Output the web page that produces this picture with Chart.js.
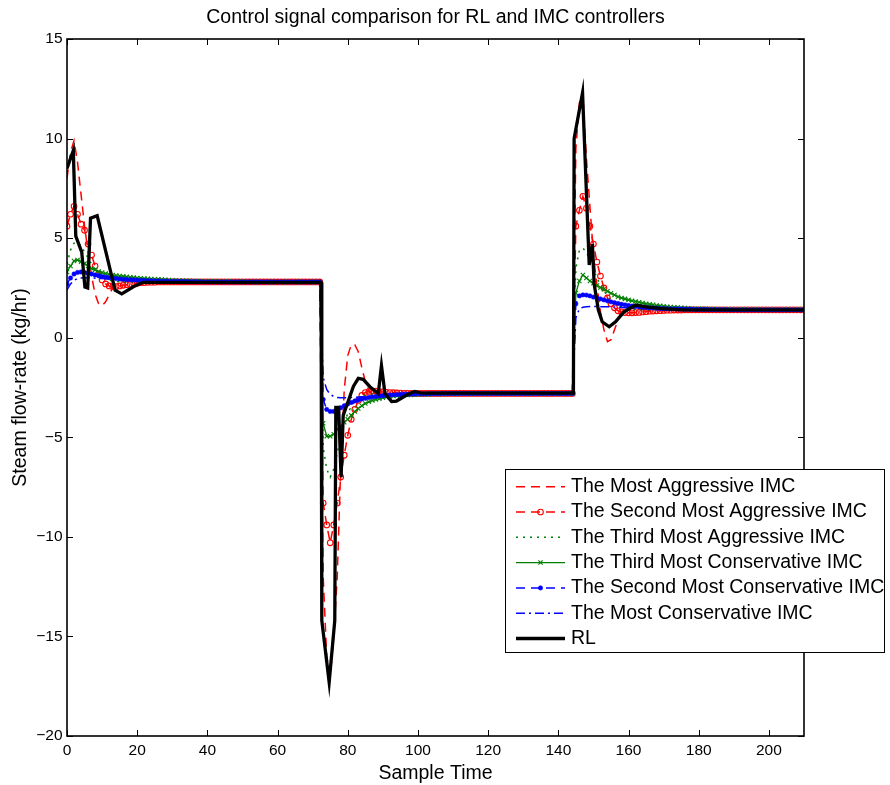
<!DOCTYPE html>
<html>
<head>
<meta charset="utf-8">
<title>Control signal comparison</title>
<script src="https://cdn.jsdelivr.net/npm/chart.js@4.4.1/dist/chart.umd.min.js"></script>
<style>
  html, body { margin: 0; padding: 0; background: #fff; }
  canvas { display: block; }
</style>
</head>
<body>
<canvas id="myChart" width="890" height="785"></canvas>
<script>
// sample index 0..210, one controller move per sample
const sampleTime = Array.from({ length: 211 }, (_, i) => i);

const xTicks = [0, 20, 40, 60, 80, 100, 120, 140, 160, 180, 200];
const yTicks = [-20, -15, -10, -5, 0, 5, 10, 15];

const mostAggressive = [
  8.0, 9.3, 9.9, 8.8, 7.2, 5.6, 4.3, 3.1, 2.2, 1.7,
  1.6, 1.8, 2.15, 2.5, 2.75, 2.85, 2.86, 2.83, 2.81, 2.8,
  2.8, 2.8, 2.8, 2.8, 2.8, 2.8, 2.8, 2.8, 2.8, 2.8,
  2.8, 2.8, 2.8, 2.8, 2.8, 2.8, 2.8, 2.8, 2.8, 2.8,
  2.8, 2.8, 2.8, 2.8, 2.8, 2.8, 2.8, 2.8, 2.8, 2.8,
  2.8, 2.8, 2.8, 2.8, 2.8, 2.8, 2.8, 2.8, 2.8, 2.8,
  2.8, 2.8, 2.8, 2.8, 2.8, 2.8, 2.8, 2.8, 2.8, 2.8,
  2.8, 2.8, 2.8, -12, -16, -17, -15, -12, -6.5, -2.6,
  -0.9, -0.35, -0.35, -0.7, -1.5, -2.2, -2.65, -2.9, -2.95, -2.9,
  -2.85, -2.8, -2.8, -2.8, -2.8, -2.8, -2.8, -2.8, -2.8, -2.8,
  -2.8, -2.8, -2.8, -2.8, -2.8, -2.8, -2.8, -2.8, -2.8, -2.8,
  -2.8, -2.8, -2.8, -2.8, -2.8, -2.8, -2.8, -2.8, -2.8, -2.8,
  -2.8, -2.8, -2.8, -2.8, -2.8, -2.8, -2.8, -2.8, -2.8, -2.8,
  -2.8, -2.8, -2.8, -2.8, -2.8, -2.8, -2.8, -2.8, -2.8, -2.8,
  -2.8, -2.8, -2.8, -2.8, -2.8, 9.5, 11.8, 12.1, 9.0, 6.6,
  4.2, 2.6, 1.3, 0.4, -0.2, -0.1, 0.4, 0.9, 1.3, 1.5,
  1.55, 1.5, 1.45, 1.42, 1.4, 1.4, 1.4, 1.4, 1.4, 1.4,
  1.4, 1.4, 1.4, 1.4, 1.4, 1.4, 1.4, 1.4, 1.4, 1.4,
  1.4, 1.4, 1.4, 1.4, 1.4, 1.4, 1.4, 1.4, 1.4, 1.4,
  1.4, 1.4, 1.4, 1.4, 1.4, 1.4, 1.4, 1.4, 1.4, 1.4,
  1.4, 1.4, 1.4, 1.4, 1.4, 1.4, 1.4, 1.4, 1.4, 1.4, 1.4
];

const secondAggressive = [
  5.6, 6.2, 6.6, 6.2, 5.7, 5.4, 4.7, 4.15, 3.6, 3.2,
  2.9, 2.7, 2.6, 2.57, 2.57, 2.6, 2.63, 2.66, 2.69, 2.72,
  2.74, 2.76, 2.77, 2.78, 2.79, 2.79, 2.8, 2.8, 2.8, 2.8,
  2.8, 2.8, 2.8, 2.8, 2.8, 2.8, 2.8, 2.8, 2.8, 2.8,
  2.8, 2.8, 2.8, 2.8, 2.8, 2.8, 2.8, 2.8, 2.8, 2.8,
  2.8, 2.8, 2.8, 2.8, 2.8, 2.8, 2.8, 2.8, 2.8, 2.8,
  2.8, 2.8, 2.8, 2.8, 2.8, 2.8, 2.8, 2.8, 2.8, 2.8,
  2.8, 2.8, 2.8, -8.3, -9.4, -10.3, -9.4, -8.3, -7.0, -5.9,
  -4.9, -4.1, -3.6, -3.15, -2.9, -2.75, -2.7, -2.68, -2.68, -2.7,
  -2.72, -2.74, -2.75, -2.76, -2.77, -2.78, -2.79, -2.79, -2.8, -2.8,
  -2.8, -2.8, -2.8, -2.8, -2.8, -2.8, -2.8, -2.8, -2.8, -2.8,
  -2.8, -2.8, -2.8, -2.8, -2.8, -2.8, -2.8, -2.8, -2.8, -2.8,
  -2.8, -2.8, -2.8, -2.8, -2.8, -2.8, -2.8, -2.8, -2.8, -2.8,
  -2.8, -2.8, -2.8, -2.8, -2.8, -2.8, -2.8, -2.8, -2.8, -2.8,
  -2.8, -2.8, -2.8, -2.8, -2.8, 5.6, 6.4, 7.1, 6.5, 5.6,
  4.7, 3.8, 3.1, 2.5, 2.0, 1.7, 1.5, 1.35, 1.3, 1.26,
  1.25, 1.25, 1.26, 1.27, 1.29, 1.31, 1.33, 1.34, 1.35, 1.36,
  1.37, 1.38, 1.38, 1.39, 1.39, 1.39, 1.4, 1.4, 1.4, 1.4,
  1.4, 1.4, 1.4, 1.4, 1.4, 1.4, 1.4, 1.4, 1.4, 1.4,
  1.4, 1.4, 1.4, 1.4, 1.4, 1.4, 1.4, 1.4, 1.4, 1.4,
  1.4, 1.4, 1.4, 1.4, 1.4, 1.4, 1.4, 1.4, 1.4, 1.4, 1.4
];

const thirdAggressive = [
  3.7, 4.4, 4.75, 4.8, 4.6, 4.3, 4.0, 3.7, 3.45, 3.25,
  3.1, 2.98, 2.9, 2.85, 2.82, 2.81, 2.8, 2.8, 2.8, 2.8,
  2.8, 2.8, 2.8, 2.8, 2.8, 2.8, 2.8, 2.8, 2.8, 2.8,
  2.8, 2.8, 2.8, 2.8, 2.8, 2.8, 2.8, 2.8, 2.8, 2.8,
  2.8, 2.8, 2.8, 2.8, 2.8, 2.8, 2.8, 2.8, 2.8, 2.8,
  2.8, 2.8, 2.8, 2.8, 2.8, 2.8, 2.8, 2.8, 2.8, 2.8,
  2.8, 2.8, 2.8, 2.8, 2.8, 2.8, 2.8, 2.8, 2.8, 2.8,
  2.8, 2.8, 2.8, -5.5, -6.6, -7.0, -6.6, -5.8, -5.0, -4.3,
  -3.8, -3.45, -3.2, -3.05, -2.95, -2.88, -2.84, -2.82, -2.81, -2.8,
  -2.8, -2.8, -2.8, -2.8, -2.8, -2.8, -2.8, -2.8, -2.8, -2.8,
  -2.8, -2.8, -2.8, -2.8, -2.8, -2.8, -2.8, -2.8, -2.8, -2.8,
  -2.8, -2.8, -2.8, -2.8, -2.8, -2.8, -2.8, -2.8, -2.8, -2.8,
  -2.8, -2.8, -2.8, -2.8, -2.8, -2.8, -2.8, -2.8, -2.8, -2.8,
  -2.8, -2.8, -2.8, -2.8, -2.8, -2.8, -2.8, -2.8, -2.8, -2.8,
  -2.8, -2.8, -2.8, -2.8, -2.8, 3.5, 4.4, 4.5, 4.3, 3.9,
  3.45, 3.0, 2.65, 2.35, 2.1, 1.9, 1.75, 1.62, 1.53, 1.47,
  1.44, 1.42, 1.41, 1.4, 1.4, 1.4, 1.4, 1.4, 1.4, 1.4,
  1.4, 1.4, 1.4, 1.4, 1.4, 1.4, 1.4, 1.4, 1.4, 1.4,
  1.4, 1.4, 1.4, 1.4, 1.4, 1.4, 1.4, 1.4, 1.4, 1.4,
  1.4, 1.4, 1.4, 1.4, 1.4, 1.4, 1.4, 1.4, 1.4, 1.4,
  1.4, 1.4, 1.4, 1.4, 1.4, 1.4, 1.4, 1.4, 1.4, 1.4, 1.4
];

const thirdConservative = [
  3.3, 3.6, 3.85, 3.9, 3.82, 3.72, 3.6, 3.48, 3.4, 3.33,
  3.27, 3.22, 3.18, 3.15, 3.12, 3.1, 3.08, 3.06, 3.04, 3.02,
  3.0, 2.99, 2.97, 2.96, 2.95, 2.94, 2.93, 2.92, 2.91, 2.9,
  2.89, 2.88, 2.87, 2.87, 2.86, 2.86, 2.85, 2.85, 2.84, 2.84,
  2.84, 2.83, 2.83, 2.83, 2.82, 2.82, 2.82, 2.82, 2.81, 2.81,
  2.81, 2.81, 2.81, 2.8, 2.8, 2.8, 2.8, 2.8, 2.8, 2.8,
  2.8, 2.8, 2.8, 2.8, 2.8, 2.8, 2.8, 2.8, 2.8, 2.8,
  2.8, 2.8, 2.8, -4.3, -4.95, -4.95, -4.85, -4.6, -4.45, -4.25,
  -4.1, -3.9, -3.7, -3.55, -3.42, -3.3, -3.22, -3.15, -3.1, -3.06,
  -3.02, -2.98, -2.95, -2.93, -2.91, -2.9, -2.89, -2.88, -2.87, -2.86,
  -2.85, -2.85, -2.84, -2.84, -2.83, -2.83, -2.82, -2.82, -2.82, -2.81,
  -2.81, -2.81, -2.81, -2.8, -2.8, -2.8, -2.8, -2.8, -2.8, -2.8,
  -2.8, -2.8, -2.8, -2.8, -2.8, -2.8, -2.8, -2.8, -2.8, -2.8,
  -2.8, -2.8, -2.8, -2.8, -2.8, -2.8, -2.8, -2.8, -2.8, -2.8,
  -2.8, -2.8, -2.8, -2.8, -2.8, 2.25, 2.85, 3.15, 3.0, 2.85,
  2.73, 2.62, 2.52, 2.43, 2.33, 2.23, 2.15, 2.06, 2.0, 1.95,
  1.9, 1.86, 1.82, 1.78, 1.74, 1.71, 1.68, 1.65, 1.62, 1.6,
  1.58, 1.56, 1.54, 1.53, 1.52, 1.5, 1.49, 1.48, 1.47, 1.46,
  1.46, 1.45, 1.45, 1.44, 1.44, 1.43, 1.43, 1.43, 1.42, 1.42,
  1.42, 1.42, 1.41, 1.41, 1.41, 1.41, 1.41, 1.4, 1.4, 1.4,
  1.4, 1.4, 1.4, 1.4, 1.4, 1.4, 1.4, 1.4, 1.4, 1.4, 1.4
];

const secondConservative = [
  2.7, 3.0, 3.2, 3.28, 3.3, 3.28, 3.24, 3.2, 3.15, 3.11,
  3.07, 3.04, 3.01, 2.99, 2.97, 2.95, 2.93, 2.92, 2.91, 2.9,
  2.89, 2.88, 2.87, 2.86, 2.86, 2.85, 2.85, 2.84, 2.84, 2.83,
  2.83, 2.83, 2.82, 2.82, 2.82, 2.81, 2.81, 2.81, 2.81, 2.8,
  2.8, 2.8, 2.8, 2.8, 2.8, 2.8, 2.8, 2.8, 2.8, 2.8,
  2.8, 2.8, 2.8, 2.8, 2.8, 2.8, 2.8, 2.8, 2.8, 2.8,
  2.8, 2.8, 2.8, 2.8, 2.8, 2.8, 2.8, 2.8, 2.8, 2.8,
  2.8, 2.8, 2.8, -3.1, -3.6, -3.7, -3.7, -3.62, -3.52, -3.42,
  -3.33, -3.25, -3.18, -3.13, -3.08, -3.04, -3.0, -2.97, -2.95, -2.93,
  -2.91, -2.9, -2.88, -2.87, -2.86, -2.85, -2.84, -2.84, -2.83, -2.83,
  -2.82, -2.82, -2.82, -2.81, -2.81, -2.81, -2.81, -2.8, -2.8, -2.8,
  -2.8, -2.8, -2.8, -2.8, -2.8, -2.8, -2.8, -2.8, -2.8, -2.8,
  -2.8, -2.8, -2.8, -2.8, -2.8, -2.8, -2.8, -2.8, -2.8, -2.8,
  -2.8, -2.8, -2.8, -2.8, -2.8, -2.8, -2.8, -2.8, -2.8, -2.8,
  -2.8, -2.8, -2.8, -2.8, -2.8, 1.7, 2.1, 2.15, 2.14, 2.1,
  2.04, 2.0, 1.95, 1.9, 1.85, 1.8, 1.76, 1.72, 1.68, 1.65,
  1.62, 1.59, 1.57, 1.55, 1.53, 1.52, 1.5, 1.49, 1.48, 1.47,
  1.46, 1.46, 1.45, 1.45, 1.44, 1.44, 1.43, 1.43, 1.43, 1.42,
  1.42, 1.42, 1.42, 1.41, 1.41, 1.41, 1.41, 1.41, 1.41, 1.4,
  1.4, 1.4, 1.4, 1.4, 1.4, 1.4, 1.4, 1.4, 1.4, 1.4,
  1.4, 1.4, 1.4, 1.4, 1.4, 1.4, 1.4, 1.4, 1.4, 1.4, 1.4
];

const mostConservative = [
  2.4, 2.7, 2.88, 2.97, 3.0, 3.01, 3.01, 3.0, 2.99, 2.98,
  2.97, 2.96, 2.95, 2.94, 2.93, 2.92, 2.91, 2.9, 2.89, 2.88,
  2.87, 2.86, 2.86, 2.85, 2.85, 2.84, 2.84, 2.83, 2.83, 2.83,
  2.82, 2.82, 2.82, 2.81, 2.81, 2.81, 2.81, 2.8, 2.8, 2.8,
  2.8, 2.8, 2.8, 2.8, 2.8, 2.8, 2.8, 2.8, 2.8, 2.8,
  2.8, 2.8, 2.8, 2.8, 2.8, 2.8, 2.8, 2.8, 2.8, 2.8,
  2.8, 2.8, 2.8, 2.8, 2.8, 2.8, 2.8, 2.8, 2.8, 2.8,
  2.8, 2.8, 2.8, -2.0, -2.6, -2.85, -2.95, -3.0, -3.02, -3.02,
  -3.01, -3.0, -2.99, -2.98, -2.97, -2.96, -2.95, -2.94, -2.93, -2.92,
  -2.91, -2.9, -2.89, -2.88, -2.87, -2.86, -2.86, -2.85, -2.85, -2.84,
  -2.84, -2.83, -2.83, -2.83, -2.82, -2.82, -2.82, -2.81, -2.81, -2.8,
  -2.8, -2.8, -2.8, -2.8, -2.8, -2.8, -2.8, -2.8, -2.8, -2.8,
  -2.8, -2.8, -2.8, -2.8, -2.8, -2.8, -2.8, -2.8, -2.8, -2.8,
  -2.8, -2.8, -2.8, -2.8, -2.8, -2.8, -2.8, -2.8, -2.8, -2.8,
  -2.8, -2.8, -2.8, -2.8, -2.8, 1.0, 1.45, 1.53, 1.56, 1.57,
  1.57, 1.57, 1.56, 1.56, 1.55, 1.55, 1.54, 1.53, 1.52, 1.51,
  1.5, 1.5, 1.49, 1.48, 1.47, 1.47, 1.46, 1.46, 1.45, 1.45,
  1.44, 1.44, 1.44, 1.43, 1.43, 1.43, 1.42, 1.42, 1.42, 1.42,
  1.41, 1.41, 1.41, 1.41, 1.41, 1.41, 1.4, 1.4, 1.4, 1.4,
  1.4, 1.4, 1.4, 1.4, 1.4, 1.4, 1.4, 1.4, 1.4, 1.4,
  1.4, 1.4, 1.4, 1.4, 1.4, 1.4, 1.4, 1.4, 1.4, 1.4, 1.4
];

// RL controller output, logged on its own time base
const rlTime = [
  0, 1.8, 2.5, 4.2, 5.1, 5.9, 6.7, 8.6, 13.7, 15.6, 18.9, 21.7,
  72.4, 72.6, 74.7, 76.3, 76.6, 77.4, 78.1, 78.7, 80.1, 81.6, 83, 84.4,
  86.3, 88.7, 89.6, 90.6, 92.5, 93.9, 96.8, 99.1, 101,
  144.3, 144.5, 146.9, 148.8, 149.7, 150.2, 151.4, 152.5, 154.5, 156.3,
  158.7, 162, 165, 169, 175, 210
];
const rlValue = [
  8.5, 9.4, 5.1, 4.3, 2.55, 2.5, 6.0, 6.13, 2.39, 2.2, 2.56, 2.78,
  2.78, -14.2, -17.3, -14.2, -3.5, -3.5, -7.0, -3.9, -3.2, -2.45, -2.04, -2.09,
  -2.46, -2.8, -1.4, -2.8, -3.2, -3.18, -2.88, -2.7, -2.78,
  -2.78, 10.0, 12.3, 3.65, 4.7, 2.7, 1.4, 0.8, 0.55, 0.8,
  1.3, 1.64, 1.55, 1.47, 1.4, 1.4
];

const imcSeries = [mostAggressive, secondAggressive, thirdAggressive,
  thirdConservative, secondConservative, mostConservative];
imcSeries.forEach(s => {
  if (s.length !== sampleTime.length) throw new Error('series length ' + s.length);
});
if (rlTime.length !== rlValue.length) throw new Error('rl length mismatch');

const toPoints = values => values.map((v, i) => ({ x: sampleTime[i], y: v }));
const minusLabel = v => (v < 0 ? '\u2212' + Math.abs(v) : String(v));

Chart.defaults.font.family = '"Liberation Sans", Arial, sans-serif';
Chart.defaults.color = '#000';

const datasets = [
  {
    label: 'The Most Aggressive IMC',
    data: toPoints(mostAggressive),
    borderColor: '#ff0000', borderWidth: 1.5, borderDash: [9, 6],
    pointRadius: 0
  },
  {
    label: 'The Second Most Aggressive IMC',
    data: toPoints(secondAggressive),
    borderColor: '#ff0000', borderWidth: 1.5, borderDash: [9, 6],
    pointStyle: 'circle', pointRadius: 2.8, pointBorderWidth: 1.1,
    pointBorderColor: '#ff0000', pointBackgroundColor: 'rgba(0,0,0,0)'
  },
  {
    label: 'The Third Most Aggressive IMC',
    data: toPoints(thirdAggressive),
    borderColor: '#008000', borderWidth: 1.5, borderDash: [2, 5],
    pointRadius: 0
  },
  {
    label: 'The Third Most Conservative IMC',
    data: toPoints(thirdConservative),
    borderColor: '#008000', borderWidth: 1.3,
    pointStyle: 'crossRot', pointRadius: 3, pointBorderWidth: 1.1,
    pointBorderColor: '#008000', pointBackgroundColor: '#008000'
  },
  {
    label: 'The Second Most Conservative IMC',
    data: toPoints(secondConservative),
    borderColor: '#0000ff', borderWidth: 1.5, borderDash: [9, 6],
    pointStyle: 'circle', pointRadius: 2.2, pointBorderWidth: 0.5,
    pointBorderColor: '#0000ff', pointBackgroundColor: '#0000ff'
  },
  {
    label: 'The Most Conservative IMC',
    data: toPoints(mostConservative),
    borderColor: '#0000ff', borderWidth: 1.5, borderDash: [9, 4, 2, 4],
    pointRadius: 0
  },
  {
    label: 'RL',
    data: rlTime.map((t, i) => ({ x: t, y: rlValue[i] })),
    borderColor: '#000000', borderWidth: 3.3,
    pointRadius: 0
  }
];
// later curves sit on top, RL last
datasets.forEach((ds, i) => { ds.order = datasets.length - i; ds.tension = 0; ds.fill = false; });

// frame with inward tick marks on all four sides
const axesBox = {
  id: 'axesBox',
  afterDatasetsDraw(chart) {
    const { ctx, chartArea: a, scales } = chart;
    const len = 6;
    ctx.save();
    ctx.strokeStyle = '#000';
    ctx.lineWidth = 1;
    ctx.beginPath();
    scales.x.ticks.forEach(t => {
      const px = Math.round(scales.x.getPixelForValue(t.value)) + 0.5;
      ctx.moveTo(px, a.bottom); ctx.lineTo(px, a.bottom - len);
      ctx.moveTo(px, a.top); ctx.lineTo(px, a.top + len);
    });
    scales.y.ticks.forEach(t => {
      const py = Math.round(scales.y.getPixelForValue(t.value)) + 0.5;
      ctx.moveTo(a.left, py); ctx.lineTo(a.left + len, py);
      ctx.moveTo(a.right, py); ctx.lineTo(a.right - len, py);
    });
    ctx.stroke();
    ctx.lineWidth = 1.6;
    ctx.strokeRect(a.left, a.top, a.right - a.left, a.bottom - a.top);
    ctx.restore();
  }
};

function drawMarker(ctx, ds, x, y) {
  const r = ds.pointRadius;
  ctx.lineWidth = ds.pointBorderWidth;
  ctx.strokeStyle = ds.pointBorderColor;
  ctx.fillStyle = ds.pointBackgroundColor;
  ctx.beginPath();
  if (ds.pointStyle === 'crossRot') {
    const d = r * Math.SQRT1_2;
    ctx.moveTo(x - d, y - d); ctx.lineTo(x + d, y + d);
    ctx.moveTo(x - d, y + d); ctx.lineTo(x + d, y - d);
    ctx.stroke();
  } else {
    ctx.arc(x, y, r, 0, Math.PI * 2);
    ctx.fill();
    ctx.stroke();
  }
}

// boxed legend in the lower right corner of the axes
const legendBox = {
  id: 'legendBox',
  afterDraw(chart) {
    const { ctx, chartArea: a } = chart;
    const left = a.right - 299;
    const top = a.top + 430;
    const w = 379, h = 183;
    ctx.save();
    ctx.fillStyle = '#fff';
    ctx.fillRect(left, top, w, h);
    ctx.strokeStyle = '#000';
    ctx.lineWidth = 1;
    ctx.strokeRect(left + 0.5, top + 0.5, w, h);
    ctx.font = '19.5px "Liberation Sans", Arial, sans-serif';
    ctx.textBaseline = 'middle';
    chart.data.datasets.forEach((ds, i) => {
      const y = top + 17.7 + i * 25.3;
      ctx.setLineDash(ds.borderDash || []);
      ctx.strokeStyle = ds.borderColor;
      ctx.lineWidth = ds.borderWidth;
      ctx.beginPath();
      ctx.moveTo(left + 11, y);
      ctx.lineTo(left + 60, y);
      ctx.stroke();
      ctx.setLineDash([]);
      if (ds.pointRadius > 0) drawMarker(ctx, ds, left + 35.5, y);
      ctx.fillStyle = '#000';
      ctx.fillText(ds.label, left + 66, y);
    });
    ctx.restore();
  }
};

const ctx = document.getElementById('myChart').getContext('2d');

const myChart = new Chart(ctx, {
  type: 'line',
  data: { datasets: datasets },
  options: {
    responsive: false,
    animation: false,
    events: [],
    layout: { padding: { left: 0, top: 0, right: 86, bottom: 0 } },
    plugins: {
      legend: { display: false },
      tooltip: { enabled: false },
      title: {
        display: true,
        fullSize: false,
        text: 'Control signal comparison for RL and IMC controllers',
        font: { size: 19.5, weight: 'normal' },
        padding: { top: 6.3, bottom: 9.3 }
      }
    },
    scales: {
      x: {
        type: 'linear',
        min: 0,
        max: 210,
        afterBuildTicks: scale => { scale.ticks = xTicks.map(v => ({ value: v })); },
        afterFit: scale => { scale.height = 49; },
        grid: { display: false, drawTicks: false },
        border: { display: false },
        ticks: { font: { size: 15.5 }, padding: 5, maxRotation: 0, autoSkip: false, callback: minusLabel },
        title: { display: true, text: 'Sample Time', font: { size: 19.5 }, padding: { top: 0, bottom: 0 } }
      },
      y: {
        type: 'linear',
        min: -20,
        max: 15,
        afterBuildTicks: scale => { scale.ticks = yTicks.map(v => ({ value: v })); },
        afterFit: scale => { scale.width = 67; },
        grid: { display: false, drawTicks: false },
        border: { display: false },
        ticks: { font: { size: 15.5 }, padding: 4.5, autoSkip: false, callback: minusLabel },
        title: { display: true, text: 'Steam flow-rate (kg/hr)', font: { size: 19.5 }, padding: { top: 9, bottom: 0 } }
      }
    }
  },
  plugins: [axesBox, legendBox]
});
</script>
</body>
</html>
